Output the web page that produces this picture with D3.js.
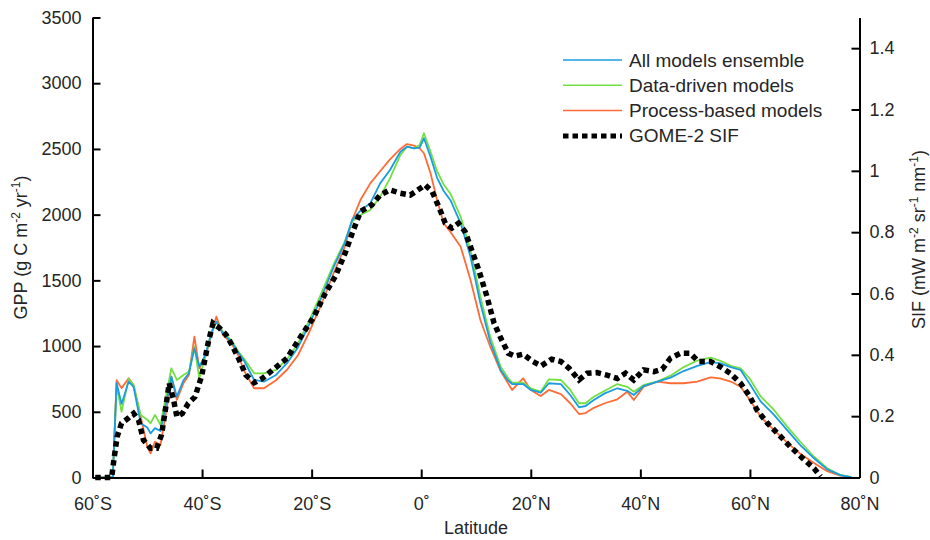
<!DOCTYPE html>
<html>
<head>
<meta charset="utf-8">
<script src="https://cdn.jsdelivr.net/npm/d3@7"></script>
<style>
  body { margin: 0; background: #fff; }
  text { font-family: "Liberation Sans", Arial, sans-serif; fill: #262626; }
</style>
</head>
<body>
<svg id="chart"></svg>
<script>
// latitude grid used by the three GPP model curves
const latGPP = [-59.5, -57, -56.3, -55.6, -54.7, -53.4, -52.5, -51.2, -50, -49.4, -48.6, -47.6, -46.3, -45.6, -44.6,
    -43.4, -42.4, -41.4, -40.5, -39.4, -38.3, -37.4, -36.2, -34.6, -33.4, -32.4, -30.5, -28.7, -26.5, -24.5, -22.5,
    -20.5, -18.5, -16, -14, -12.6, -11.1, -9.3, -7.5, -5.7, -3.8, -2.6, -1.3, -0.3, 0.5, 1.7, 2.9, 4.1, 5.4, 7.2,
    9.0, 10.8, 12.6, 14.5, 15.8, 16.6, 18.6, 20.0, 21.8, 23.3, 25.5, 27.2, 28.8, 30.0, 31.5, 33.5, 35.8, 37.6, 38.8,
    40.6, 43.1, 45.5, 47.9, 50.4, 52.8, 54.5, 56.5, 58.3, 60.0, 62.0, 64.4, 66.8, 69.2, 71.7, 74.1, 76.5, 78.5];

const gppAll = [0, 0, 0, 720, 560, 730, 690, 412, 380, 336, 376, 354, 620, 767, 615,
    740, 793, 983, 843, 932, 1100, 1185, 1097, 1030, 950, 894, 742, 729, 780, 870, 990,
    1160, 1340, 1600, 1780, 1960, 2030, 2086, 2238, 2340, 2479, 2517, 2505, 2510, 2581, 2441, 2280, 2180, 2105, 1934,
    1680, 1325, 1033, 818, 740, 711, 711, 666, 645, 717, 711, 628, 534, 544, 590, 640, 679, 660, 628,
    696, 729, 760, 810, 850, 878, 870, 840, 818, 710, 577, 476, 361, 247, 146, 62, 18, 2];

const gppData = [0, 0, 0, 700, 501, 750, 700, 476, 440, 412, 476, 400, 680, 831, 742,
    780, 805, 995, 755, 919, 1110, 1185, 1109, 1040, 960, 907, 793, 793, 818, 900, 1020,
    1190, 1376, 1620, 1790, 1950, 1997, 2035, 2137, 2276, 2454, 2517, 2505, 2530, 2619, 2479, 2330, 2230, 2155, 1984,
    1731, 1376, 1071, 843, 760, 721, 721, 679, 653, 747, 742, 666, 565, 565, 615, 660, 711, 690, 653,
    704, 729, 775, 840, 890, 912, 890, 850, 831, 750, 615, 514, 387, 272, 158, 70, 19, 2];

const gppProcess = [0, 0, 0, 740, 680, 755, 704, 463, 234, 184, 272, 247, 565, 767, 590,
    717, 780, 1071, 831, 919, 1084, 1224, 1084, 1020, 930, 818, 679, 679, 740, 820, 930,
    1100, 1290, 1554, 1750, 1959, 2111, 2238, 2330, 2420, 2500, 2537, 2525, 2505, 2467, 2315, 2111, 1934, 1865, 1756,
    1503, 1198, 995, 810, 720, 666, 755, 666, 620, 666, 635, 565, 483, 490, 530, 565, 595, 653, 590,
    691, 729, 717, 717, 729, 762, 755, 730, 690, 590, 460, 360, 265, 180, 110, 48, 14, 2];

// GOME-2 SIF, right axis
const latSIF = [-59.5, -56.5, -56.1, -55.5, -54.7, -53.5, -52.5, -51.6, -50.7, -49.4, -48.3, -47.4, -46.7, -46.0,
    -45.2, -44.6, -43.6, -42.5, -41.3, -40.1, -38.9, -38.0, -36.8, -35.6, -34.4, -33.2, -32.0, -30.5, -29.0, -27.5,
    -24.5, -22.0, -19.6, -17.5, -15.7, -13.9, -12.6, -11.1, -9.0, -7.5, -5.7, -3.8, -2.0, -0.8, 0.7, 2.0, 3.2, 4.4,
    5.6, 6.8, 8.0, 9.0, 10.5, 12.0, 13.3, 14.7, 15.9, 17.1, 18.6, 20.4, 21.9, 23.8, 25.5, 27.0, 28.8, 30.3, 32.1,
    33.9, 35.8, 37.3, 38.8, 40.6, 42.5, 44.0, 45.5, 47.3, 49.1, 50.6, 52.8, 54.6, 56.4, 58.3, 59.8, 61.3, 63.2, 65.3,
    67.4, 69.6, 71.7, 72.9];

const sif = [0, 0, 0.057, 0.133, 0.177, 0.193, 0.209, 0.188, 0.122, 0.095, 0.095, 0.139, 0.220, 0.307,
    0.253, 0.198, 0.209, 0.242, 0.263, 0.329, 0.438, 0.503, 0.487, 0.465, 0.427, 0.383, 0.334, 0.309, 0.323, 0.345,
    0.389, 0.459, 0.524, 0.601, 0.655, 0.731, 0.796, 0.867, 0.889, 0.921, 0.938, 0.927, 0.921, 0.935, 0.954, 0.932, 0.883, 0.829,
    0.813, 0.829, 0.802, 0.753, 0.677, 0.590, 0.503, 0.448, 0.405, 0.396, 0.402, 0.378, 0.364, 0.386, 0.378, 0.356, 0.318, 0.340, 0.342,
    0.334, 0.323, 0.340, 0.318, 0.351, 0.345, 0.353, 0.389, 0.405, 0.405, 0.378, 0.378, 0.361, 0.340, 0.307, 0.269, 0.220, 0.177, 0.139,
    0.100, 0.063, 0.030, 0.003];

const xTicks = [-60, -40, -20, 0, 20, 40, 60, 80];
const xTickLabels = ["60˚S", "40˚S", "20˚S", "0˚", "20˚N", "40˚N", "60˚N", "80˚N"];
const gppTicks = [0, 500, 1000, 1500, 2000, 2500, 3000, 3500];
const sifTicks = [0, 0.2, 0.4, 0.6, 0.8, 1, 1.2, 1.4];

const seriesNames = ["All models ensemble", "Data-driven models", "Process-based models", "GOME-2 SIF"];
const seriesColors = ["#1a9de0", "#72e043", "#ff6b36", "#000"];

const width = 930, height = 540;
const margin = { left: 92.5, right: 930 - 859.5, top: 17.5, bottom: 540 - 477.5 };

const svg = d3.select("#chart")
    .attr("width", width)
    .attr("height", height);

const x = d3.scaleLinear().domain([-60, 80]).range([margin.left, width - margin.right]);
const yL = d3.scaleLinear().domain([0, 3500]).range([height - margin.bottom, margin.top]);
const yR = d3.scaleLinear().domain([0, 1.5]).range([height - margin.bottom, margin.top]);

// model lines
const gppSets = [gppAll, gppData, gppProcess];
const line = d3.line().x(d => x(d[0])).y(d => yL(d[1]));
[2, 1, 0].forEach(i => {
    svg.append("path")
        .datum(latGPP.map((l, j) => [l, gppSets[i][j]]))
        .attr("fill", "none")
        .attr("stroke", seriesColors[i])
        .attr("stroke-width", 1.8)
        .attr("stroke-linejoin", "round")
        .attr("d", line);
});

// SIF dotted line
svg.append("path")
    .datum(latSIF.map((l, j) => [l, sif[j]]))
    .attr("fill", "none")
    .attr("stroke", "#000")
    .attr("stroke-width", 5.5)
    .attr("stroke-dasharray", "5.5,4")
    .attr("d", d3.line().x(d => x(d[0])).y(d => yR(d[1])));

// axes (ticks point inward like the original)
const xAxis = svg.append("g")
    .attr("transform", `translate(0,${height - margin.bottom})`)
    .call(d3.axisBottom(x).tickValues(xTicks).tickSizeInner(-8).tickSizeOuter(0)
        .tickFormat((d, i) => xTickLabels[i]));
xAxis.selectAll("text").attr("dy", 0).attr("y", 32);

const leftAxis = svg.append("g")
    .attr("transform", `translate(${margin.left},0)`)
    .call(d3.axisLeft(yL).tickValues(gppTicks).tickSizeInner(-8).tickSizeOuter(0).tickFormat(d3.format("d")));
leftAxis.selectAll("text").attr("x", -11);

const rightAxis = svg.append("g")
    .attr("transform", `translate(${width - margin.right},0)`)
    .call(d3.axisRight(yR).tickValues(sifTicks).tickSizeInner(-8).tickSizeOuter(0).tickFormat(d => d3.format("~g")(d)));
rightAxis.selectAll("text").attr("x", 10);

svg.selectAll(".domain").attr("stroke", "#000").attr("stroke-width", 2);
svg.selectAll(".tick line").attr("stroke", "#000").attr("stroke-width", 2);
svg.selectAll(".tick text").attr("font-size", 18).attr("font-family", "Liberation Sans, Arial, sans-serif").attr("fill", "#262626");

// axis titles
svg.append("text")
    .attr("x", (margin.left + width - margin.right) / 2)
    .attr("y", 534)
    .attr("text-anchor", "middle")
    .attr("font-size", 18)
    .text("Latitude");

const gppLabel = svg.append("text")
    .attr("transform", `translate(27,${(margin.top + height - margin.bottom) / 2}) rotate(-90)`)
    .attr("text-anchor", "middle")
    .attr("font-size", 18);
gppLabel.append("tspan").text("GPP (g C m");
gppLabel.append("tspan").attr("dy", -7).attr("font-size", 12).text("-2");
gppLabel.append("tspan").attr("dy", 7).text(" yr");
gppLabel.append("tspan").attr("dy", -7).attr("font-size", 12).text("-1");
gppLabel.append("tspan").attr("dy", 7).text(")");

const sifLabel = svg.append("text")
    .attr("transform", `translate(925,${(margin.top + height - margin.bottom) / 2 - 8}) rotate(-90)`)
    .attr("text-anchor", "middle")
    .attr("font-size", 18);
sifLabel.append("tspan").text("SIF (mW m");
sifLabel.append("tspan").attr("dy", -7).attr("font-size", 12).text("-2");
sifLabel.append("tspan").attr("dy", 7).text(" sr");
sifLabel.append("tspan").attr("dy", -7).attr("font-size", 12).text("-1");
sifLabel.append("tspan").attr("dy", 7).text(" nm");
sifLabel.append("tspan").attr("dy", -7).attr("font-size", 12).text("-1");
sifLabel.append("tspan").attr("dy", 7).text(")");

// legend
const legend = svg.append("g").attr("transform", "translate(563,60)");
seriesNames.forEach((name, i) => {
    const row = legend.append("g").attr("transform", `translate(0,${i * 25.3})`);
    row.append("line")
        .attr("x1", 0).attr("x2", 59)
        .attr("stroke", seriesColors[i])
        .attr("stroke-width", i === 3 ? 5 : 1.5)
        .attr("stroke-dasharray", i === 3 ? "5.5,4" : null);
    row.append("text")
        .attr("x", 66)
        .attr("y", 6.5)
        .attr("font-size", 19)
        .text(name);
});
</script>
</body>
</html>
